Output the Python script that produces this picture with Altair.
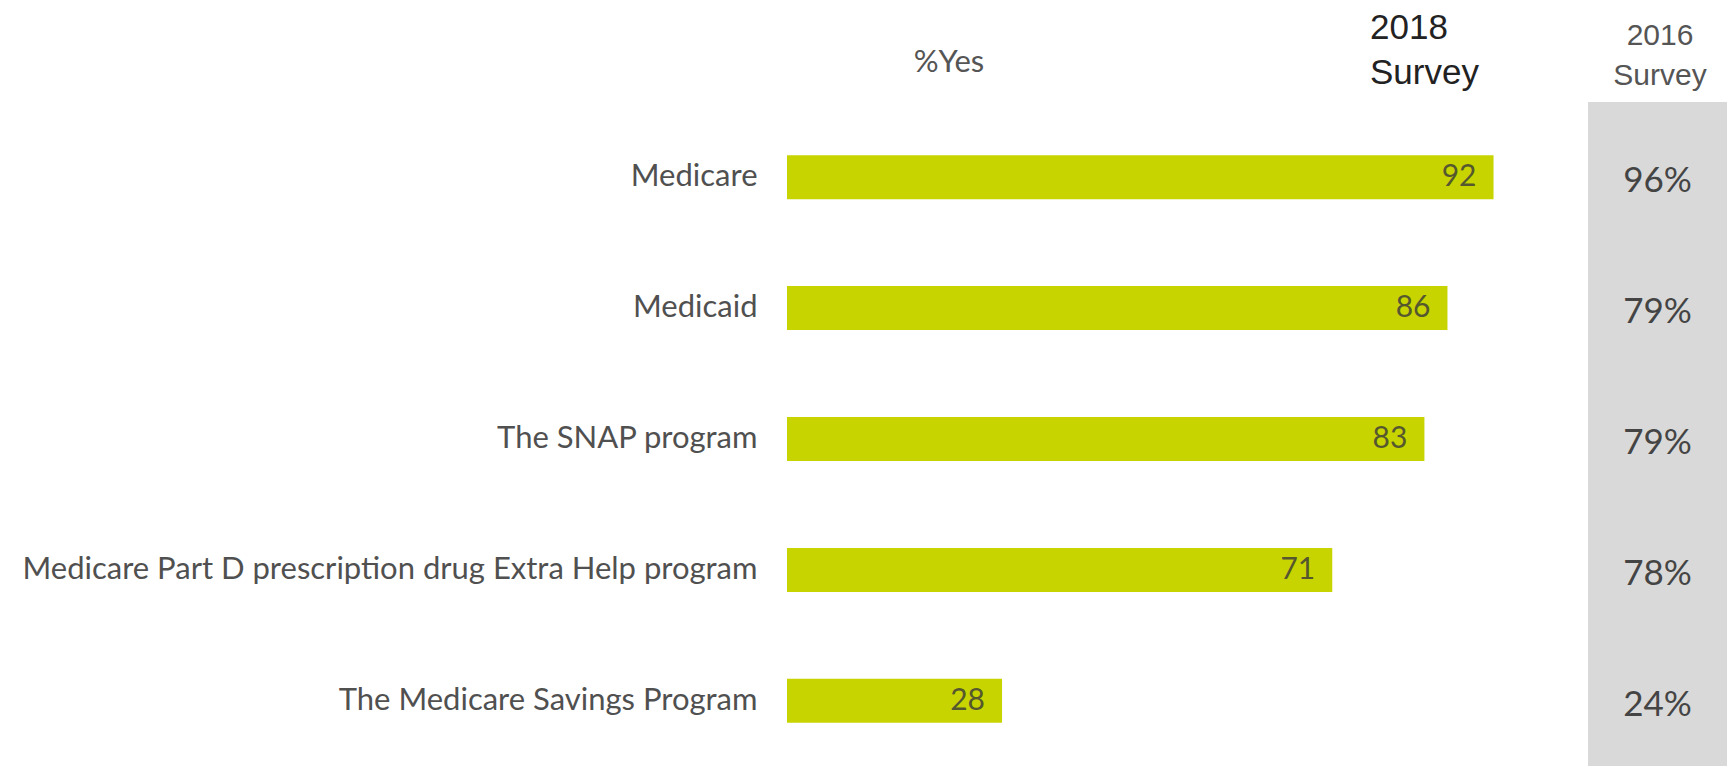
import altair as alt
import pandas as pd

categories = [
    "Medicare",
    "Medicaid",
    "The SNAP program",
    "Medicare Part D prescription drug Extra Help program",
    "The Medicare Savings Program",
]
yes_2018 = [92, 86, 83, 71, 28]
yes_2016 = [96, 79, 79, 78, 24]

X_MAX = 122.4
BAND_START = 104.3
BAND_CENTER = (BAND_START + X_MAX) / 2

df = pd.DataFrame({
    "program": categories,
    "y2018": yes_2018,
    "y2016": yes_2016,
    "label2016": [f"{v}%" for v in yes_2016],
    "col2016": [BAND_CENTER] * len(categories),
})

xscale = alt.Scale(domain=[0, X_MAX], nice=False, zero=True)
yenc = alt.Y(
    "program:N",
    sort=categories,
    scale=alt.Scale(paddingInner=0.664, paddingOuter=0.2),
    axis=alt.Axis(
        title=None, ticks=False, domain=False, labelPadding=30,
        labelFont="Lato", labelFontSize=31, labelColor="#505050",
        labelLimit=0, grid=False,
    ),
)

base = alt.Chart(df)

band_df = pd.DataFrame({"start": [BAND_START], "end": [X_MAX + 2]})
band = alt.Chart(band_df).mark_rect(color="#d9d9d9").encode(
    x=alt.X("start:Q", scale=xscale, axis=None),
    x2="end:Q",
    y=alt.value(-27),
    y2=alt.value(640),
)

bars = base.mark_bar(color="#c8d400").encode(
    x=alt.X("y2018:Q", scale=xscale, axis=None),
    y=yenc,
)

vals = base.mark_text(
    align="right", baseline="middle", dx=-17, font="Lato", fontSize=30, color="#55582e"
).encode(
    x=alt.X("y2018:Q", scale=xscale, axis=None),
    y=alt.Y("program:N", sort=categories),
    text="y2018:Q",
)

vals16 = base.mark_text(
    align="center", baseline="middle", dy=4, font="Lato", fontSize=35, color="#444444"
).encode(
    x=alt.X("col2016:Q", scale=xscale, axis=None),
    y=alt.Y("program:N", sort=categories),
    text="label2016:N",
)

hdr = pd.DataFrame({"a": [0]})
h_yes = alt.Chart(hdr).mark_text(
    text="%Yes", align="center", baseline="middle", font="Lato", fontSize=31, color="#555555"
).encode(x=alt.value(162), y=alt.value(-66))

h_2018 = alt.Chart(hdr).mark_text(
    text=["2018", "Survey"], align="left", baseline="middle", lineHeight=45,
    font="Liberation Sans", fontSize=35, color="#222222"
).encode(x=alt.value(583), y=alt.value(-101))

h_2016 = alt.Chart(hdr).mark_text(
    text=["2016", "Survey"], align="center", baseline="middle", lineHeight=40,
    font="Liberation Sans", fontSize=30, color="#555555"
).encode(x=alt.value(873), y=alt.value(-93))

chart = alt.layer(band, bars, vals, vals16, h_yes, h_2018, h_2016).properties(
    width=940,
    height=620,
    autosize=alt.AutoSizeParams(type="none"),
    padding={"left": 779, "top": 121, "right": 0, "bottom": 17},
    background="white",
).configure_view(stroke=None)

chart.save("out.html", embed_options={"renderer": "svg", "actions": False})
